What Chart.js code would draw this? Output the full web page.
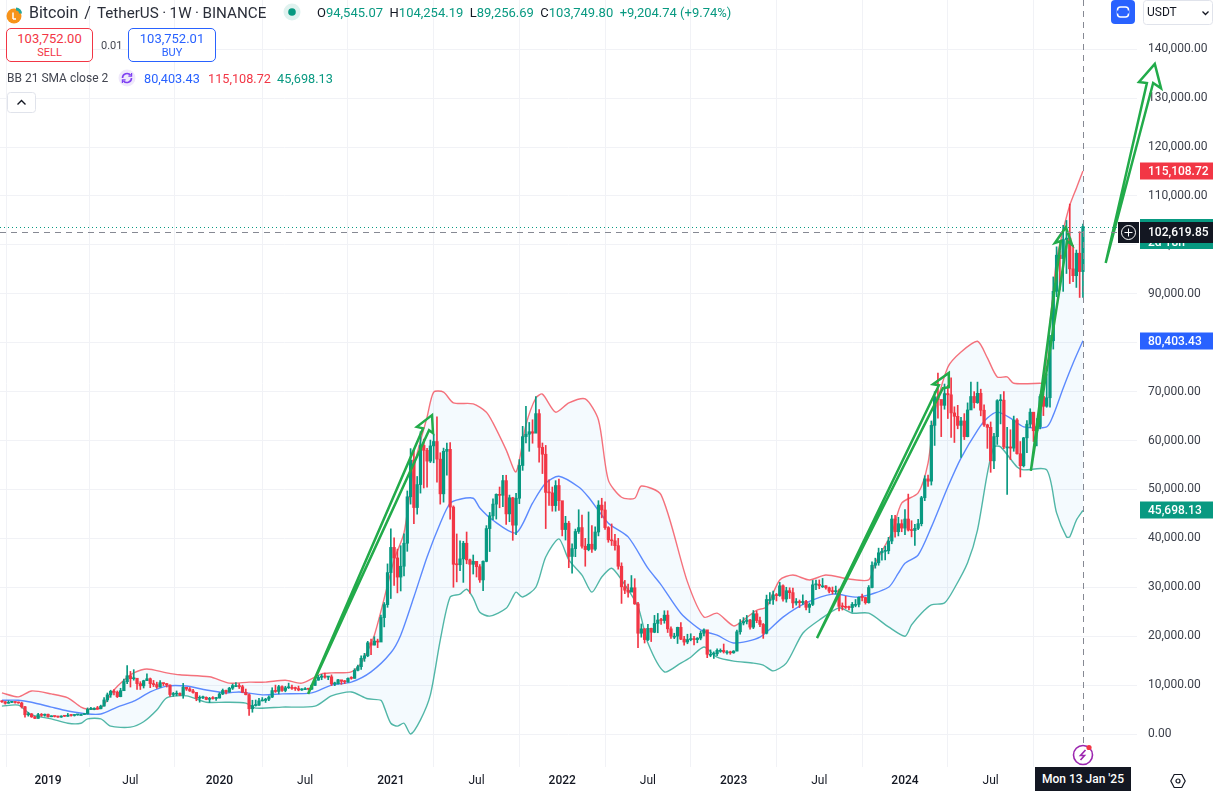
<!DOCTYPE html>
<html>
<head>
<meta charset="utf-8">
<title>Bitcoin / TetherUS 1W</title>
<script src="https://cdn.jsdelivr.net/npm/chart.js@4"></script>
<style>
    html, body { margin: 0; padding: 0; background: #fff; overflow: hidden; }
    body { width: 1217px; height: 793px; position: relative; font-family: Roboto, sans-serif; color: #131722; }
    canvas { position: absolute; left: 0; top: 0; }
    .abs { position: absolute; white-space: nowrap; }
    .up { color: #089981; }
    .down { color: #f23645; }
    .blue { color: #2962ff; }
    .tradeBox { position: absolute; top: 28px; height: 34px; box-sizing: border-box; border: 1px solid; border-radius: 5px; background: #fff; text-align: center; }
    .tradeBox b { display: block; font-weight: 400; font-size: 13px; line-height: 15px; margin-top: 2px; }
    .tradeBox i { display: block; font-style: normal; font-size: 11px; line-height: 13px; }
</style>
</head>
<body>
<canvas id="btcChart" width="1217" height="793"></canvas>

<svg class="abs" style="left:5px;top:3px" width="22" height="22" viewBox="0 0 22 22">
    <circle cx="9" cy="13" r="7.5" fill="#f7931a"/>
    <path d="M11 4.5 A6 6 0 0 1 17 10.5 L14 10.5 A3 3 0 0 0 11 7.5 Z" fill="#26a69a"/>
    <path d="M8 9.5 V16 M8 16 H11" stroke="#fff" stroke-width="1.5" fill="none"/>
</svg>
<div class="abs" style="left:29px;top:3px;font-size:16px;line-height:20px;color:#2a2e39;">Bitcoin<span style="margin-left:6px;">/</span><span style="margin-left:6px;font-size:15.2px;word-spacing:-0.3px;">TetherUS · 1W · BINANCE</span></div>
<svg class="abs" style="left:283px;top:3px" width="18" height="18"><circle cx="9" cy="9" r="8.5" fill="#e0f2ef"/><circle cx="9" cy="9" r="3.8" fill="#089981"/></svg>
<div class="abs" style="left:317px;top:5px;font-size:13px;line-height:16px;">O<span class="up">94,545.07</span>&nbsp;&nbsp;H<span class="up">104,254.19</span>&nbsp;&nbsp;L<span class="up">89,256.69</span>&nbsp;&nbsp;C<span class="up">103,749.80</span>&nbsp;&nbsp;<span class="up">+9,204.74 (+9.74%)</span></div>

<div class="tradeBox down" style="left:6px;width:87px;border-color:#f23645;"><b>103,752.00</b><i>SELL</i></div>
<div class="abs" style="left:101px;top:39px;font-size:11px;line-height:14px;color:#434651;">0.01</div>
<div class="tradeBox blue" style="left:128px;width:88px;border-color:#2962ff;"><b>103,752.01</b><i>BUY</i></div>

<div class="abs" style="left:7px;top:71px;font-size:12px;line-height:15px;color:#434651;">BB 21 SMA close 2</div>
<svg class="abs" style="left:118px;top:69px" width="18" height="18" viewBox="0 0 18 18">
    <circle cx="9" cy="9" r="8.5" fill="#efe8fb"/>
    <path d="M4.5 9 A4.5 4.5 0 0 1 12.6 6.3 M13.5 9 A4.5 4.5 0 0 1 5.4 11.7" stroke="#7e3ff2" stroke-width="1.6" fill="none"/>
    <path d="M13.6 4 V7.2 H10.4 M4.4 14 V10.8 H7.6" stroke="#7e3ff2" stroke-width="1.2" fill="none"/>
</svg>
<div class="abs" style="left:144px;top:71px;font-size:12.7px;line-height:15px;"><span class="blue">80,403.43</span></div>
<div class="abs" style="left:208px;top:71px;font-size:12.7px;line-height:15px;"><span class="down">115,108.72</span></div>
<div class="abs" style="left:277px;top:71px;font-size:12.7px;line-height:15px;"><span class="up">45,698.13</span></div>

<svg class="abs" style="left:7px;top:92px" width="29" height="21"><rect x="0.5" y="0.5" width="28" height="20" rx="3" fill="#fff" stroke="#e0e3eb"/><path d="M10.5 12.5 L14.5 8.5 L18.5 12.5" stroke="#131722" stroke-width="1.4" fill="none"/></svg>

<svg class="abs" style="left:1111px;top:0" width="24" height="24"><rect width="24" height="24" rx="4" fill="#2962ff"/><rect x="6.5" y="7" width="11" height="10" rx="3" fill="none" stroke="#fff" stroke-width="1.5"/><path d="M6 12 H18" stroke="#2962ff" stroke-width="3"/></svg>
<svg class="abs" style="left:1143px;top:0" width="70" height="25"><rect x="0.5" y="0.5" width="69" height="24" rx="3" fill="#fff" stroke="#e0e3eb"/><path d="M59.5 11.5 L62.5 14.5 L65.5 11.5" stroke="#131722" stroke-width="1.3" fill="none"/></svg>
<div class="abs" style="left:1147px;top:5px;font-size:12px;line-height:15px;">USDT</div>

<svg class="abs" style="left:1072px;top:743px" width="24" height="24"><circle cx="11" cy="12" r="9.5" fill="#fff" stroke="#9c27b0" stroke-width="1.6"/><path d="M13.5 7 L8.5 12.5 H12.5 L8.5 17" stroke="#9c27b0" stroke-width="1.6" fill="none"/><circle cx="17" cy="4.5" r="2.6" fill="#f23645"/></svg>
<div class="abs" style="left:1035px;top:767px;width:96px;height:24px;background:#131722;color:#fff;font-size:12px;font-weight:500;line-height:24px;text-align:center;">Mon 13 Jan '25</div>
<svg class="abs" style="left:1170px;top:773px" width="16" height="16"><path d="M4.2 1.5 H11.8 L15.2 8 L11.8 14.5 H4.2 L0.8 8 Z" fill="none" stroke="#131722" stroke-width="1.2"/><circle cx="8" cy="8" r="2" fill="none" stroke="#131722" stroke-width="1.2"/></svg>

<script>
// weekly bars, week 0 = 1 Oct 2018, week 328 = 13 Jan 2025
const firstOpen = 6600;
const closes = [
    // 2018
    6590, 6290, 6470, 6490, 6450, 6340, 5570, 3930, 4100, 3510, 3190, 3970, 3820,
    // 2019
    4040, 3520, 3670, 3580, 3460, 3650, 3620, 3830, 3790, 3900, 3980, 3980, 4090,
    5040, 5060, 5260, 5160, 5700, 6960, 8000, 8740, 8550, 7640, 8850, 10700, 11900,
    11300, 11400, 10300, 9850, 10900, 11300, 10300, 10100, 9600, 10500, 10300, 10000, 8080,
    8150, 8300, 7950, 9550, 9200, 8800, 8500, 7300, 7420, 7500, 7080, 7260, 7250,
    // 2020
    7350, 8180, 8900, 8600, 9370, 9900, 9900, 9660, 8530, 8030, 5160, 5820, 5880,
    6770, 6860, 7120, 7540, 8870, 8700, 9670, 8900, 9450, 9460, 9330, 9290, 9000,
    9070, 9230, 9160, 9930, 11000, 11580, 11850, 11640, 11700, 10250, 10320, 11080, 10770,
    10670, 11380, 11370, 13020, 13760, 15480, 15990, 18650, 18180, 19000, 18800, 23800, 26450,
    // 2021
    33000, 38150, 36000, 32080, 34300, 39000, 48500, 56000, 46300, 51000, 59000, 58000, 55800,
    58900, 59800, 56200, 49100, 57800, 58200, 46400, 34700, 34600, 35800, 39000, 35600, 34700,
    35300, 34200, 31500, 35300, 42000, 44600, 47000, 49000, 48800, 51800, 45000, 48300, 42700,
    48200, 54900, 60800, 61300, 61800, 61500, 65500, 58600, 57200, 49400, 49300, 46700, 50800, 47700,
    // 2022
    41800, 43100, 36300, 37900, 41400, 42200, 38400, 37700, 38800, 37800, 41300, 46800, 45800,
    42200, 39700, 39500, 38500, 34300, 30100, 29400, 29000, 29900, 26600, 20600, 21500, 19300,
    21600, 20800, 22600, 23300, 23200, 24300, 21500, 20000, 20000, 21800, 19400, 18800, 19300,
    19400, 19300, 19600, 20600, 21300, 16300, 16300, 16400, 17100, 17100, 16800, 16800, 16600,
    // 2023
    16950, 20900, 22700, 23000, 23300, 21850, 24600, 23200, 22400, 20600, 27500, 27500, 28450,
    28300, 30300, 27600, 29300, 28900, 26800, 27100, 26850, 27100, 25900, 26500, 30500, 30600,
    30300, 30300, 29900, 29200, 29100, 29300, 26100, 26000, 25900, 25850, 26500, 26500, 27950,
    27900, 26850, 29950, 34500, 35000, 37050, 37350, 37450, 39450, 43950, 41350, 43000, 42100,
    // 2024
    43950, 41700, 41600, 42050, 43000, 48300, 52150, 51700, 63100, 68950, 68400, 67200, 69600,
    69350, 65650, 64950, 63100, 64000, 60800, 66250, 69000, 67750, 69650, 66200, 63200, 62700,
    55850, 60800, 68150, 68250, 58700, 58700, 58450, 64200, 57300, 54850, 60550, 63350, 65800, 62000,
    62850, 69000, 67000, 68750, 80400, 90500, 97900, 97200, 101100, 101400, 95100, 93700, 98300,
    // 2025
    94545.07, 103749.80
];
const highs = [
    6800, 6640, 6780, 6600, 6600, 6550, 6500, 5650, 4400, 4200, 3600, 4230, 4200,
    4090, 4080, 3730, 3660, 3640, 3730, 3690, 4200, 3950, 3950, 3990, 4050, 4150,
    5340, 5470, 5360, 5650, 5900, 7450, 8380, 8950, 9100, 8800, 9350, 11250, 13970,
    12800, 13150, 11200, 10700, 11000, 12300, 11450, 10950, 10600, 10900, 10450, 10360, 10050,
    8500, 8800, 8400, 10350, 9550, 9500, 9150, 8500, 7800, 7750, 7600, 7500, 7650,
    7500, 8450, 9200, 8970, 9550, 10200, 10500, 10300, 9970, 9190, 8200, 6900, 6950,
    7300, 7450, 7300, 7800, 9460, 10000, 9950, 9850, 9750, 10400, 10000, 9600, 9800,
    9300, 9470, 9350, 10150, 11400, 11980, 12200, 12470, 11780, 12090, 10600, 11200, 10950,
    10950, 11500, 11720, 13350, 14100, 15960, 16490, 18950, 19420, 19900, 19400, 24300, 26870,
    34780, 41950, 40100, 37800, 38500, 40950, 49700, 58350, 58000, 52650, 61800, 60300, 58400,
    60100, 61300, 64850, 57500, 58450, 59500, 59600, 46650, 40900, 39500, 39400, 41300, 35750,
    36600, 35100, 34650, 35400, 42600, 45300, 48100, 49100, 50500, 52900, 52900, 48850, 48400,
    49200, 56100, 62900, 67000, 63700, 64250, 69000, 66350, 59500, 59000, 51950, 50500, 51800, 52100,
    47550, 44500, 43500, 38900, 41900, 45850, 44750, 40000, 45400, 42600, 42350, 47700, 48200,
    47450, 42400, 42950, 40800, 40000, 35000, 31400, 30650, 32400, 31750, 26900, 22500, 21550,
    22400, 21650, 24250, 24650, 23650, 25200, 25200, 21900, 20600, 21850, 22800, 19950, 20400,
    20500, 19950, 19700, 21050, 21500, 21000, 17200, 16800, 17400, 17400, 18400, 17050, 16950,
    17050, 21250, 23400, 23800, 24250, 23450, 25250, 25150, 23900, 22600, 28400, 28900, 29200,
    28750, 31000, 30500, 30000, 29900, 29850, 27700, 27400, 28450, 27350, 26800, 31400, 31450,
    31500, 31800, 30350, 30050, 30050, 30250, 29650, 26800, 28150, 26150, 26900, 27500, 28000,
    28600, 27950, 30350, 35200, 35950, 38000, 37950, 38400, 40200, 44700, 44700, 44300, 43800,
    45900, 49050, 43600, 42850, 43900, 48600, 52800, 52950, 64000, 70000, 73800, 68200, 71550,
    71300, 72800, 66900, 67200, 64750, 65500, 67700, 71950, 70000, 71950, 70500, 67300, 63350,
    63800, 61450, 68350, 69400, 70000, 62700, 62200, 65000, 64500, 59800, 60650, 64100, 66500, 65550,
    64500, 69400, 69500, 73600, 81500, 93450, 99600, 98700, 104000, 105000, 108350, 99900, 98950,
    102700, 104254.19
];
const lows = [
    6460, 6100, 6280, 6400, 6320, 6280, 5300, 3460, 3650, 3400, 3150, 3170, 3580,
    3630, 3450, 3520, 3470, 3380, 3400, 3580, 3600, 3670, 3660, 3830, 3890, 3950,
    4080, 4950, 4950, 5050, 5140, 5700, 6600, 7500, 8000, 7450, 7600, 8900, 10300,
    9600, 11000, 9100, 9100, 9400, 10900, 9470, 9700, 9320, 9600, 9900, 9600, 7700,
    7700, 7800, 7850, 7300, 8900, 8700, 8350, 6800, 6500, 7200, 7000, 6430, 7100,
    6850, 7350, 8050, 8200, 8520, 9100, 9700, 9300, 8450, 8000, 3780, 4450, 5700,
    5850, 6750, 6450, 6800, 7450, 8500, 8200, 8700, 8630, 9300, 9100, 8900, 8830,
    8900, 9100, 9000, 9100, 9900, 11000, 11100, 11400, 11100, 9900, 9880, 10200, 10150,
    10300, 10530, 11200, 11400, 12900, 13200, 14850, 15800, 16200, 18200, 17650, 19000, 21900,
    25900, 27700, 30400, 28850, 29240, 32300, 37350, 47000, 43000, 44950, 49250, 50300, 50450,
    55500, 55450, 51500, 47000, 47400, 52900, 43900, 30000, 31100, 33400, 31000, 34800, 28800,
    32700, 32100, 31000, 29300, 35200, 37300, 43800, 43950, 46250, 46500, 42850, 43400, 39600,
    40750, 47100, 53900, 59500, 57800, 59450, 62300, 55600, 53250, 42000, 46750, 45550, 45550, 45700,
    40500, 39650, 34000, 32900, 36250, 41000, 38000, 34300, 37450, 37150, 37550, 40500, 44200,
    41850, 39200, 38550, 37600, 33700, 26700, 28700, 28000, 29300, 26500, 17650, 19800, 18600,
    19100, 18900, 20700, 20700, 22400, 22650, 20750, 19550, 19500, 18500, 19300, 18150, 18450,
    19050, 18200, 18650, 19250, 20050, 15600, 15800, 15450, 16000, 16700, 16550, 16300, 16300,
    16500, 17000, 20400, 22300, 22500, 21450, 21550, 22750, 21950, 19550, 20450, 26600, 26500,
    27200, 28150, 27150, 26950, 27700, 25800, 26350, 25850, 26500, 25350, 24800, 26250, 29500,
    29700, 29950, 29600, 28850, 28600, 28700, 25150, 25350, 25650, 25350, 24900, 26000, 26000,
    27200, 26550, 26750, 29850, 33900, 34500, 35550, 35600, 36850, 38900, 40250, 40500, 41350,
    40750, 41500, 40300, 38550, 41800, 42550, 47700, 50600, 50900, 59000, 64550, 60800, 66400,
    64500, 60650, 59600, 62400, 56550, 60200, 60750, 66600, 66650, 67600, 65050, 62900, 58400,
    53500, 54250, 59200, 63400, 58350, 49000, 56100, 57800, 57200, 52550, 54600, 57500, 62650, 59800,
    58900, 62400, 65100, 66800, 66800, 78700, 89400, 90800, 90500, 94150, 92100, 92500, 91300,
    89250, 89256.69
];

// bollinger bands
const upperWeeks = [0, 5, 9, 15, 20, 24, 26, 30, 34, 37,
    40, 44, 50, 54, 63, 69, 75, 80, 86, 91,
    97, 100, 106, 109, 113, 119, 122, 125, 129, 131,
    134, 137, 143, 147, 149, 153, 156, 159, 162, 164,
    168, 172, 177, 181, 184, 188, 192, 194, 200, 208,
    213, 217, 222, 225, 229, 232, 236, 240, 245, 250,
    257, 263, 265, 270, 273, 278, 281, 283, 287, 291,
    296, 299, 302, 305, 307, 315, 316, 318, 320, 322,
    324, 326, 328];
const upperValues = [8400, 7600, 8800, 8200, 7400, 5500, 5100, 5300, 9000, 11000,
    12500, 13300, 12500, 12100, 11700, 10400, 10600, 10600, 11000, 10400,
    12300, 12500, 12700, 14500, 20200, 35600, 41100, 54600, 64800, 69900,
    69900, 67700, 67500, 65800, 63600, 58100, 53600, 63200, 68700, 69500,
    65800, 67700, 68500, 64200, 51900, 48400, 48200, 50700, 48900, 31100,
    23900, 24700, 22100, 23300, 25300, 26000, 31500, 32500, 31500, 32500,
    31700, 31500, 35000, 41100, 47200, 49300, 55400, 65600, 75000, 78100,
    80300, 76900, 73000, 73000, 71700, 71700, 71800, 84000, 97000, 103000,
    108100, 111600, 115108.72];

const basisWeeks = [0, 5, 9, 15, 20, 26, 30, 35, 40, 45,
    50, 56, 62, 68, 72, 79, 85, 94, 100, 106,
    112, 118, 121, 125, 129, 133, 136, 139, 143, 145,
    149, 156, 161, 165, 169, 175, 178, 184, 190, 196,
    200, 206, 212, 217, 222, 230, 237, 244, 252, 260,
    269, 272, 274, 278, 282, 287, 291, 296, 299, 302,
    306, 310, 317, 319, 322, 325, 328];
const basisValues = [6900, 6900, 6500, 5500, 4700, 4100, 4100, 5500, 6700, 8600,
    9800, 9800, 9000, 8400, 8600, 8000, 8200, 8400, 10000, 10600,
    12700, 16600, 20200, 28000, 36200, 43100, 47200, 48000, 48200, 46200,
    43700, 41100, 47200, 51300, 52700, 50500, 48400, 43100, 40300, 33900,
    30500, 24700, 21300, 20200, 18600, 19800, 23900, 26800, 28600, 28000,
    30000, 32900, 34900, 36600, 42300, 50500, 56400, 62100, 64600, 65800,
    64600, 62800, 62800, 65200, 70700, 75800, 80403.43];

const lowerWeeks = [0, 5, 9, 15, 20, 24, 26, 30, 33, 39,
    43, 47, 50, 56, 62, 68, 74, 77, 85, 95,
    100, 106, 111, 115, 116, 118, 120, 122, 124, 127,
    130, 133, 136, 139, 141, 143, 145, 148, 153, 155,
    156, 158, 162, 165, 169, 172, 176, 179, 182, 185,
    188, 193, 196, 201, 206, 209, 213, 217, 222, 228,
    231, 234, 238, 243, 248, 254, 258, 263, 269, 274,
    276, 279, 282, 286, 289, 293, 296, 299, 301, 303,
    308, 310, 317, 320, 323, 324, 326, 328];
const lowerValues = [5700, 5900, 3900, 3100, 2200, 2200, 3100, 3100, 1600, 1400,
    2500, 4900, 7400, 7800, 6500, 6500, 6300, 5300, 5500, 5700,
    7800, 8600, 7200, 6900, 5500, 2200, 1600, 2200, 0, 2900,
    8000, 19200, 28000, 28600, 29600, 27800, 24900, 24100, 25700, 28000,
    29000, 28000, 30000, 36200, 39900, 35600, 32500, 29000, 32100, 33900,
    31500, 26000, 18600, 12700, 14500, 15700, 17800, 15700, 14900, 14500,
    14100, 12900, 14500, 20600, 23300, 25800, 24700, 24700, 21900, 20000,
    22300, 24700, 26400, 26800, 29800, 35000, 41700, 53300, 58700, 58700,
    54600, 54000, 54000, 45200, 40300, 40300, 43700, 45698.13];

// hand drawn arrows on the chart, week + price of each corner
const arrowWeeks = [
    [92.9, 127.8, 125.9, 130.5, 130.8, 129.6, 92.9],
    [247.3, 284.3, 282.5, 287.3, 287.3, 285.5, 247.3],
    [312.2, 321.3, 319.5, 322.8, 324.7, 323.2, 312.2],
    [334.9, 347.4, 345, 349.8, 351.7, 349.3, 334.9]
];
const arrowPrices = [
    [8200, 62500, 62800, 65200, 61500, 62100, 8200],
    [19600, 71300, 71500, 73800, 70900, 70700, 19600],
    [53800, 100800, 100400, 103600, 100000, 100800, 53800],
    [96300, 133100, 133300, 137000, 132000, 133100, 96300]
];

const priceTicks = [0, 10000, 20000, 30000, 40000, 50000, 60000, 70000, 80000, 90000, 100000, 110000, 120000, 130000, 140000];
const timeTickWeeks = [14, 39, 66, 92, 118, 144, 170, 196, 222, 248, 274, 300];
const timeTickLabels = ['2019', 'Jul', '2020', 'Jul', '2021', 'Jul', '2022', 'Jul', '2023', 'Jul', '2024', 'Jul'];

const crosshairPrice = 102619.85;
const lastPrice = 103749.80;
const tagValues = [115108.72, 80403.43, 45698.13];
const tagColors = ['#f23645', '#2962ff', '#089981'];

const UP = '#089981';
const DOWN = '#f23645';
const GRID = '#f1f2f6';

function money(v) {
    return v.toLocaleString('en-US', { minimumFractionDigits: 2, maximumFractionDigits: 2 });
}

function zip(xs, ys) {
    return xs.map(function(x, i) { return { x: x, y: ys[i] }; });
}

// the axes must not push the plot away from the window edges
function noScalePadding(scale) {
    scale.paddingTop = 0;
    scale.paddingBottom = 0;
    scale.paddingLeft = 0;
    scale.paddingRight = 0;
    scale._padding = { left: 0, top: 0, right: 0, bottom: 0 };
}

document.addEventListener("DOMContentLoaded", function() {

    const opens = closes.map(function(c, i) { return i === 0 ? firstOpen : closes[i - 1]; });
    const colors = closes.map(function(c, i) { return c >= opens[i] ? UP : DOWN; });

    const wickData = closes.map(function(c, i) { return { x: i, y: [lows[i], highs[i]] }; });
    const bodyData = closes.map(function(c, i) { return { x: i, y: [opens[i], c] }; });

    const bandLine = function(label, xs, ys, color, extra) {
        return Object.assign({
            type: 'line',
            label: label,
            data: zip(xs, ys),
            borderColor: color,
            borderWidth: 1.4,
            pointRadius: 0,
            tension: 0.25,
            order: 5,
            fill: false
        }, extra || {});
    };

    const datasets = [
        bandLine('Lower', lowerWeeks, lowerValues, 'rgba(8,153,129,0.7)'),
        bandLine('Upper', upperWeeks, upperValues, 'rgba(242,54,69,0.7)', {
            fill: { target: 0 },
            backgroundColor: 'rgba(33,150,243,0.05)'
        }),
        bandLine('Basis', basisWeeks, basisValues, 'rgba(41,98,255,0.75)'),
        {
            type: 'bar',
            label: 'Wick',
            data: wickData,
            backgroundColor: colors,
            barThickness: 1,
            grouped: false,
            order: 3
        },
        {
            type: 'bar',
            label: 'Body',
            data: bodyData,
            backgroundColor: colors,
            barThickness: 2.6,
            minBarLength: 1,
            grouped: false,
            order: 2
        }
    ];

    arrowWeeks.forEach(function(xs, n) {
        datasets.push({
            type: 'line',
            label: 'Arrow ' + (n + 1),
            data: zip(xs, arrowPrices[n]),
            borderColor: '#22ab4a',
            borderWidth: 2.5,
            pointRadius: 0,
            tension: 0,
            fill: false,
            clip: false,
            order: 1
        });
    });

    const overlay = {
        id: 'overlay',
        afterDatasetsDraw: function(chart) {
            const ctx = chart.ctx;
            const area = chart.chartArea;
            const xScale = chart.scales.x;
            const yScale = chart.scales.y;
            const lastX = Math.round(xScale.getPixelForValue(closes.length - 1)) + 0.5;
            const crossY = Math.round(yScale.getPixelForValue(crosshairPrice)) + 0.5;
            const lastY = Math.round(yScale.getPixelForValue(lastPrice)) + 0.5;

            ctx.save();
            ctx.lineWidth = 1;
            ctx.setLineDash([1, 3]);
            ctx.strokeStyle = UP;
            ctx.beginPath();
            ctx.moveTo(area.left, lastY);
            ctx.lineTo(area.right + 3, lastY);
            ctx.stroke();

            ctx.setLineDash([6, 5]);
            ctx.strokeStyle = '#868993';
            ctx.beginPath();
            ctx.moveTo(area.left, crossY);
            ctx.lineTo(area.right, crossY);
            ctx.moveTo(lastX, area.top);
            ctx.lineTo(lastX, area.bottom);
            ctx.stroke();
            ctx.setLineDash([]);

            // tags on the price axis
            ctx.textAlign = 'left';
            ctx.textBaseline = 'middle';
            ctx.font = '500 12px Roboto';
            const tagLeft = area.right + 3;
            const tagWidth = 73;
            tagValues.forEach(function(v, i) {
                const y = Math.round(yScale.getPixelForValue(v));
                ctx.fillStyle = tagColors[i];
                ctx.fillRect(tagLeft, y - 8.5, tagWidth, 17);
                ctx.fillStyle = '#fff';
                ctx.fillText(money(v), tagLeft + 8, y + 0.5);
            });

            ctx.fillStyle = UP;
            ctx.fillRect(tagLeft, lastY - 8.5, tagWidth, 30);
            ctx.fillStyle = '#fff';
            ctx.fillText(money(lastPrice), tagLeft + 8, lastY);
            ctx.fillText('2d 18h', tagLeft + 8, lastY + 15);

            ctx.fillStyle = '#131722';
            ctx.fillRect(tagLeft, crossY - 10.5, tagWidth, 21);
            ctx.fillRect(area.right - 19, crossY - 10.5, 21, 21);
            ctx.fillStyle = '#fff';
            ctx.fillText(money(crosshairPrice), tagLeft + 8, crossY + 0.5);

            ctx.strokeStyle = '#fff';
            ctx.beginPath();
            ctx.arc(area.right - 8.5, crossY, 7, 0, Math.PI * 2);
            ctx.moveTo(area.right - 12.5, crossY);
            ctx.lineTo(area.right - 4.5, crossY);
            ctx.moveTo(area.right - 8.5, crossY - 4);
            ctx.lineTo(area.right - 8.5, crossY + 4);
            ctx.stroke();
            ctx.restore();
        }
    };

    new Chart(document.getElementById('btcChart'), {
        type: 'bar',
        data: { datasets: datasets },
        plugins: [overlay],
        options: {
            responsive: false,
            animation: false,
            devicePixelRatio: 1,
            events: [],
            layout: { padding: 0 },
            plugins: {
                legend: { display: false },
                tooltip: { enabled: false }
            },
            scales: {
                x: {
                    type: 'linear',
                    min: -0.58,
                    max: 344.4,
                    offset: false,
                    afterFit: function(scale) {
                        scale.height = 26;
                        noScalePadding(scale);
                    },
                    afterBuildTicks: function(scale) {
                        scale.ticks = timeTickWeeks.map(function(w) { return { value: w }; });
                    },
                    grid: { color: GRID, drawTicks: false },
                    border: { display: false },
                    ticks: {
                        autoSkip: false,
                        maxRotation: 0,
                        padding: 7,
                        color: '#131722',
                        font: function(ctx) {
                            const isYear = ctx.tick && timeTickLabels[timeTickWeeks.indexOf(ctx.tick.value)] !== 'Jul';
                            return { family: 'Roboto', size: 12, weight: isYear ? '500' : '400' };
                        },
                        callback: function(value) {
                            return timeTickLabels[timeTickWeeks.indexOf(value)];
                        }
                    }
                },
                y: {
                    position: 'right',
                    min: -6747,
                    max: 150070,
                    afterFit: function(scale) {
                        scale.width = 80;
                        noScalePadding(scale);
                    },
                    afterBuildTicks: function(scale) {
                        scale.ticks = priceTicks.map(function(p) { return { value: p }; });
                    },
                    grid: { color: GRID, drawTicks: false },
                    border: { display: false },
                    ticks: {
                        padding: 11,
                        color: '#3c404b',
                        font: { family: 'Roboto', size: 12 },
                        callback: function(value) { return money(value); }
                    }
                }
            }
        }
    });
});
</script>
</body>
</html>
